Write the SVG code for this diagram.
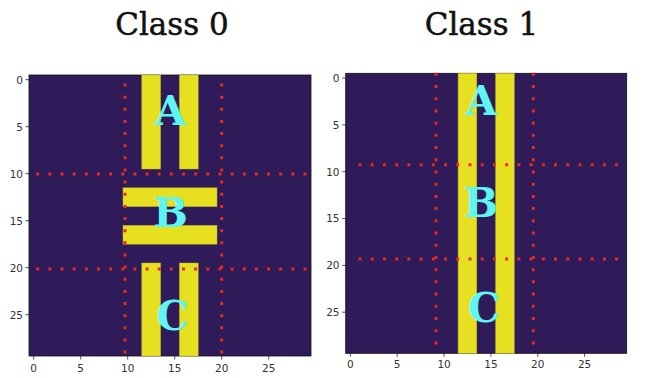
<svg xmlns="http://www.w3.org/2000/svg" width="648" height="378" viewBox="0 0 648 378">
<defs>
<style>
.title{font-family:"DejaVu Serif","Liberation Serif",serif;font-size:31px;fill:#111;stroke:#111;stroke-width:0.5;text-anchor:middle}
.bg{fill:#2f1a5a;stroke:#111;stroke-width:0.8}
.bar{fill:#e7e021;stroke:#b7b030;stroke-width:0.5}
.lbl{font-family:"DejaVu Serif","Liberation Serif",serif;font-weight:bold;font-size:41px;fill:#5ff5f5;text-anchor:middle}
.dot{stroke:#e52a22;stroke-width:3;fill:none}
.tick{stroke:#222;stroke-width:0.8}
.tl{font-family:"DejaVu Sans","Liberation Sans",sans-serif;font-size:10.5px;fill:#333}
.tly{text-anchor:end}
.tlx{text-anchor:middle}
</style>
</defs>
<rect width="648" height="378" fill="#fff"/>
<text class="title" x="172" y="35">Class 0</text>
<text class="title" x="481.5" y="35">Class 1</text>

<g id="panel-class0">
<rect class="bg" x="29" y="75" width="282" height="281"/>
<rect class="bar" x="141.8" y="75" width="18.8" height="94"/>
<rect class="bar" x="179.4" y="75" width="18.8" height="94"/>
<rect class="bar" x="123" y="187.8" width="94" height="18.8"/>
<rect class="bar" x="123" y="225.4" width="94" height="18.8"/>
<rect class="bar" x="141.8" y="263" width="18.8" height="93"/>
<rect class="bar" x="179.4" y="263" width="18.8" height="93"/>
<g class="grid">
<line class="dot" x1="125" y1="83.5" x2="125" y2="354" stroke-dasharray="3 9.14"/>
<line class="dot" x1="221.7" y1="83.5" x2="221.7" y2="354" stroke-dasharray="3 9.14"/>
<line class="dot" x1="36.2" y1="174" x2="308" y2="174" stroke-dasharray="3 9.15"/>
<line class="dot" x1="36.2" y1="269" x2="308" y2="269" stroke-dasharray="3 9.15"/>
</g>
<text class="lbl" x="170.5" y="125">A</text>
<text class="lbl" x="170.5" y="226.7">B</text>
<text class="lbl" x="172.5" y="330">C</text>
<g class="axes">
<path class="tick" d="M25.5 79.7H29M25.5 126.7H29M25.5 173.7H29M25.5 220.7H29M25.5 267.7H29M25.5 314.7H29M33.7 356V359.5M80.7 356V359.5M127.7 356V359.5M174.7 356V359.5M221.7 356V359.5M268.7 356V359.5"/>
<text class="tl tly" x="23" y="83.5">0</text>
<text class="tl tly" x="23" y="130.5">5</text>
<text class="tl tly" x="23" y="177.5">10</text>
<text class="tl tly" x="23" y="224.5">15</text>
<text class="tl tly" x="23" y="271.5">20</text>
<text class="tl tly" x="23" y="318.5">25</text>
<text class="tl tlx" x="33.7" y="372">0</text>
<text class="tl tlx" x="80.7" y="372">5</text>
<text class="tl tlx" x="127.7" y="372">10</text>
<text class="tl tlx" x="174.7" y="372">15</text>
<text class="tl tlx" x="221.7" y="372">20</text>
<text class="tl tlx" x="268.7" y="372">25</text>
</g>
</g>

<g id="panel-class1">
<rect class="bg" x="345.7" y="73.3" width="281" height="280"/>
<rect class="bar" x="458.1" y="73.3" width="18.7" height="280"/>
<rect class="bar" x="495.6" y="73.3" width="18.7" height="280"/>
<g class="grid">
<line class="dot" x1="436" y1="72.8" x2="436" y2="345" stroke-dasharray="3 9.21"/>
<line class="dot" x1="533.3" y1="72.8" x2="533.3" y2="345" stroke-dasharray="3 9.21"/>
<line class="dot" x1="358.5" y1="164.7" x2="619" y2="164.7" stroke-dasharray="3 9.22"/>
<line class="dot" x1="358.5" y1="259" x2="619" y2="259" stroke-dasharray="3 9.22"/>
</g>
<text class="lbl" x="481.2" y="115">A</text>
<text class="lbl" x="480.8" y="216.7">B</text>
<text class="lbl" x="484" y="321.7">C</text>
<g class="axes">
<path class="tick" d="M342.2 78H345.7M342.2 124.9H345.7M342.2 171.7H345.7M342.2 218.6H345.7M342.2 265.4H345.7M342.2 312.2H345.7M350.4 353.3V356.8M397.2 353.3V356.8M444.1 353.3V356.8M490.9 353.3V356.8M537.8 353.3V356.8M584.6 353.3V356.8"/>
<text class="tl tly" x="339.5" y="81.8">0</text>
<text class="tl tly" x="339.5" y="128.7">5</text>
<text class="tl tly" x="339.5" y="175.5">10</text>
<text class="tl tly" x="339.5" y="222.4">15</text>
<text class="tl tly" x="339.5" y="269.2">20</text>
<text class="tl tly" x="339.5" y="316">25</text>
<text class="tl tlx" x="350.4" y="368">0</text>
<text class="tl tlx" x="397.2" y="368">5</text>
<text class="tl tlx" x="444.1" y="368">10</text>
<text class="tl tlx" x="490.9" y="368">15</text>
<text class="tl tlx" x="537.8" y="368">20</text>
<text class="tl tlx" x="584.6" y="368">25</text>
</g>
</g>
</svg>
